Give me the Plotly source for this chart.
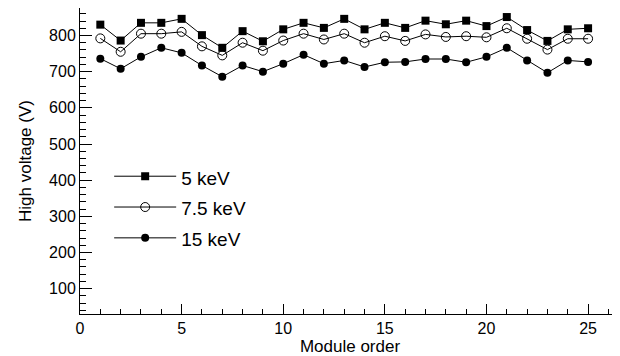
import plotly.graph_objects as go

module = list(range(1, 26))
hv_5kev = [830, 786, 835, 835, 846, 801, 766, 812, 784, 817, 835, 821,
           846, 817, 835, 821, 841, 831, 841, 826, 851, 815, 785, 817, 820]
hv_7p5kev = [792, 755, 805, 805, 810, 770, 745, 780, 758, 786, 805, 789,
             805, 780, 798, 785, 803, 796, 798, 795, 820, 791, 761, 791, 791]
hv_15kev = [736, 708, 741, 766, 752, 717, 686, 717, 700, 722, 747, 722,
            731, 713, 726, 727, 735, 735, 726, 741, 766, 731, 697, 731, 727]
labels = ["5 keV", "7.5 keV", "15 keV"]

FONT = "Liberation Sans, Arial, sans-serif"

fig = go.Figure()
markers = [
    dict(symbol="square", size=8, color="black"),
    dict(symbol="circle-open", size=9, color="black", line=dict(width=1, color="black")),
    dict(symbol="circle", size=8, color="black"),
]
for name, vals, mk in zip(labels, [hv_5kev, hv_7p5kev, hv_15kev], markers):
    fig.add_trace(go.Scatter(x=module, y=vals,
                             name='<span style="font-size:19px">' + name + '</span>',
                             mode="lines+markers",
                             line=dict(color="black", width=1), marker=mk))

# page body has an 8px default margin: figure is sized to fill the rest of the window
fig.update_layout(
    width=612, height=348,
    margin=dict(l=72, r=0, t=0, b=42),
    paper_bgcolor="white", plot_bgcolor="white",
    font=dict(family=FONT, color="black", size=16),
    showlegend=True,
    legend=dict(x=0.054, y=0.517, xanchor="left", yanchor="top",
                bgcolor="rgba(0,0,0,0)", font=dict(size=21.4, family=FONT),
                itemwidth=62, tracegroupgap=0),
)
fig.update_xaxes(range=[0, 26.57], showgrid=False, zeroline=False, automargin=False,
                 showline=True, linecolor="black", linewidth=1, mirror=True,
                 ticks="inside", ticklen=10, tickcolor="black", dtick=5, tick0=0,
                 minor=dict(ticks="inside", ticklen=5, dtick=1, tickcolor="black"),
                 title=dict(text="Module order", font=dict(size=17), standoff=0),
                 tickfont=dict(size=16))
fig.update_yaxes(range=[30, 876], showgrid=False, zeroline=False, automargin=False,
                 showline=True, linecolor="black", linewidth=1, mirror=True,
                 ticks="inside", ticklen=12, tickcolor="black", dtick=100, tick0=0,
                 minor=dict(ticks="inside", ticklen=6, dtick=20, tickcolor="black"),
                 title=dict(text="High voltage (V)", font=dict(size=17), standoff=13),
                 tickfont=dict(size=16))

fig.write_html("out.html")
